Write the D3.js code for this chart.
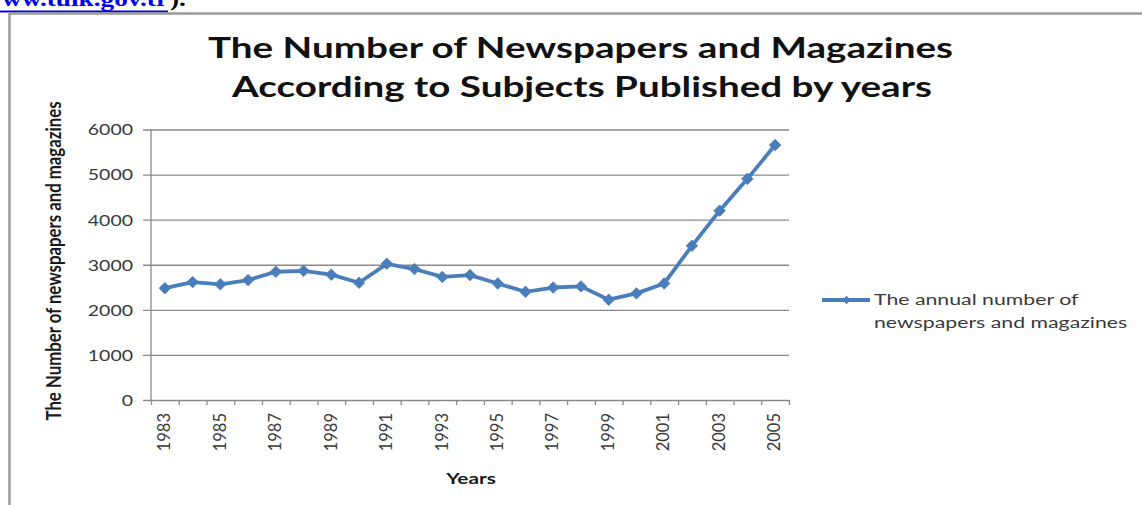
<!DOCTYPE html>
<html>
<head>
<meta charset="utf-8">
<script src="https://cdn.jsdelivr.net/npm/d3@7"></script>
<style>
  body { margin: 0; background: #ffffff; }
  svg { display: block; }
  text { font-family: Lato, "Open Sans", "DejaVu Sans", sans-serif; }
</style>
</head>
<body>
<svg id="chart" width="1142" height="505"></svg>
<script>
// Newspapers and magazines published per year (TÜİK)
const years = [1983, 1984, 1985, 1986, 1987, 1988, 1989, 1990, 1991, 1992, 1993, 1994,
               1995, 1996, 1997, 1998, 1999, 2000, 2001, 2002, 2003, 2004, 2005];
const counts = [2480, 2615, 2565, 2660, 2845, 2865, 2780, 2600, 3020, 2905, 2730, 2770,
                2585, 2400, 2495, 2520, 2225, 2365, 2585, 3420, 4200, 4905, 5655];
const yTicks = [0, 1000, 2000, 3000, 4000, 5000, 6000];
const xLabelYears = years.filter((d, i) => i % 2 === 0);

const titleLines = ["The Number of Newspapers and Magazines",
                    "According to Subjects Published by years"];
const yTitle = "The Number of newspapers and magazines";
const xTitle = "Years";
const legendLines = ["The annual number of", "newspapers and magazines"];
const sourceLink = "www.tuik.gov.tr";

const lineColor = "#4a7ebb";
const gridColor = "#8a8a8a";
const labelColor = "#3a3a3a";

const svg = d3.select("#chart");
svg.append("rect").attr("width", 1142).attr("height", 505).attr("fill", "#ffffff");

// Horizontally widened text helper
function place(sel, x, y, sx, rot) {
  sel.attr("transform", `translate(${x},${y}) scale(${sx},1)` + (rot ? ` rotate(${rot})` : ""));
  return sel;
}

// Source line above the frame
const src = svg.append("g");
place(src.append("text"), 168, 6, 1.3)
  .attr("text-anchor", "end")
  .style("font-family", "'Liberation Serif', 'DejaVu Serif', serif")
  .style("font-weight", "bold").style("font-size", "21px")
  .attr("fill", "#0000ee").text(sourceLink);
src.append("rect").attr("x", 0).attr("y", 10.5).attr("width", 168).attr("height", 2).attr("fill", "#0000ee");
place(src.append("text"), 170, 6, 1.3)
  .style("font-family", "'Liberation Serif', 'DejaVu Serif', serif")
  .style("font-weight", "bold").style("font-size", "21px")
  .attr("fill", "#000").text(").");

// Chart frame
svg.append("path").attr("d", "M9.5,505 V13.5 H1142")
  .attr("fill", "none").attr("stroke", "#9a9a9a").attr("stroke-width", 2.5);

// Scales
const plotLeft = 151, plotRight = 789, plotTop = 129.5, plotBottom = 400;
const x = d3.scaleBand().domain(years).range([plotLeft, plotRight]).padding(0);
const cx = d => x(d) + x.bandwidth() / 2;
const y = d3.scaleLinear().domain([0, 6000]).range([plotBottom, plotTop]);

// Gridlines + y tick labels
const yAxisG = svg.append("g")
  .attr("transform", `translate(${plotLeft - 8},0)`)
  .call(d3.axisLeft(y).tickValues(yTicks)
    .tickSize(-(plotRight - plotLeft + 8)).tickPadding(10).tickFormat(d3.format("d")));
yAxisG.select(".domain").remove();
yAxisG.selectAll(".tick line").attr("stroke", gridColor).attr("stroke-width", 1.3);
yAxisG.selectAll(".tick text").each(function () {
  const t = d3.select(this);
  t.attr("x", null).attr("dy", "0.36em");
  place(t, -10, 0, 1.3);
}).attr("fill", labelColor).style("font-size", "15px");

// Vertical axis line
svg.append("line").attr("x1", plotLeft).attr("x2", plotLeft)
  .attr("y1", y(6000)).attr("y2", y(0))
  .attr("stroke", gridColor).attr("stroke-width", 1.3);

// Category boundary ticks on the x axis
const xb = d3.scaleLinear().domain([0, years.length]).range([plotLeft, plotRight]);
const xAxisG = svg.append("g")
  .attr("transform", `translate(0,${plotBottom})`)
  .call(d3.axisBottom(xb).tickValues(d3.range(years.length + 1)).tickSize(5).tickFormat(""));
xAxisG.select(".domain").remove();
xAxisG.selectAll(".tick line").attr("stroke", gridColor).attr("stroke-width", 1.3);

// Rotated year labels
svg.append("g").selectAll("text").data(xLabelYears).join("text")
  .each(function (d) { place(d3.select(this), cx(d) - 1, plotBottom + 13, 1.05, -90); })
  .attr("text-anchor", "end").attr("dy", "0.36em")
  .attr("fill", labelColor).style("font-size", "16.5px")
  .text(d => d);

// Axis titles
place(svg.append("text"), 53, 261, 1.25, -90)
  .attr("text-anchor", "middle").attr("dy", "0.36em")
  .style("font-weight", "bold").style("font-size", "16.8px").attr("fill", "#1a1a1a")
  .text(yTitle);
place(svg.append("text"), 471, 484, 1.3)
  .attr("text-anchor", "middle")
  .style("font-weight", "bold").style("font-size", "16px").attr("fill", "#1a1a1a")
  .text(xTitle);

// Title
const titleG = svg.append("g");
titleG.selectAll("text").data(titleLines).join("text")
  .attr("x", (d, i) => i === 0 ? 580.5 : 582)
  .attr("y", (d, i) => i === 0 ? 58 : 97)
  .attr("text-anchor", "middle")
  .attr("textLength", (d, i) => i === 0 ? 745 : 700)
  .attr("lengthAdjust", "spacingAndGlyphs")
  .style("font-weight", "bold").style("font-size", "28px").attr("fill", "#111")
  .text(d => d);

// Series line and diamond markers
const line = d3.line().x((d, i) => cx(years[i])).y(d => y(d));
svg.append("path").datum(counts)
  .attr("d", line).attr("fill", "none")
  .attr("stroke", lineColor).attr("stroke-width", 3.8).attr("stroke-linejoin", "round");

const diamond = d3.symbol(d3.symbolSquare, 66);
svg.append("g").selectAll("path").data(counts).join("path")
  .attr("d", diamond)
  .attr("transform", (d, i) => `translate(${cx(years[i])},${y(d)}) rotate(45)`)
  .attr("fill", lineColor).attr("stroke", lineColor).attr("stroke-width", 0.8);

// Legend
const lg = svg.append("g");
lg.append("line").attr("x1", 822).attr("x2", 870).attr("y1", 300).attr("y2", 300)
  .attr("stroke", lineColor).attr("stroke-width", 3.8);
lg.append("path").attr("d", d3.symbol(d3.symbolSquare, 36))
  .attr("transform", "translate(846.5,300) rotate(45)").attr("fill", lineColor);
lg.selectAll("text").data(legendLines).join("text")
  .each(function (d, i) { place(d3.select(this), 874, i === 0 ? 305 : 328, 1.33); })
  .style("font-size", "16px").attr("fill", labelColor)
  .text(d => d);
</script>
</body>
</html>
